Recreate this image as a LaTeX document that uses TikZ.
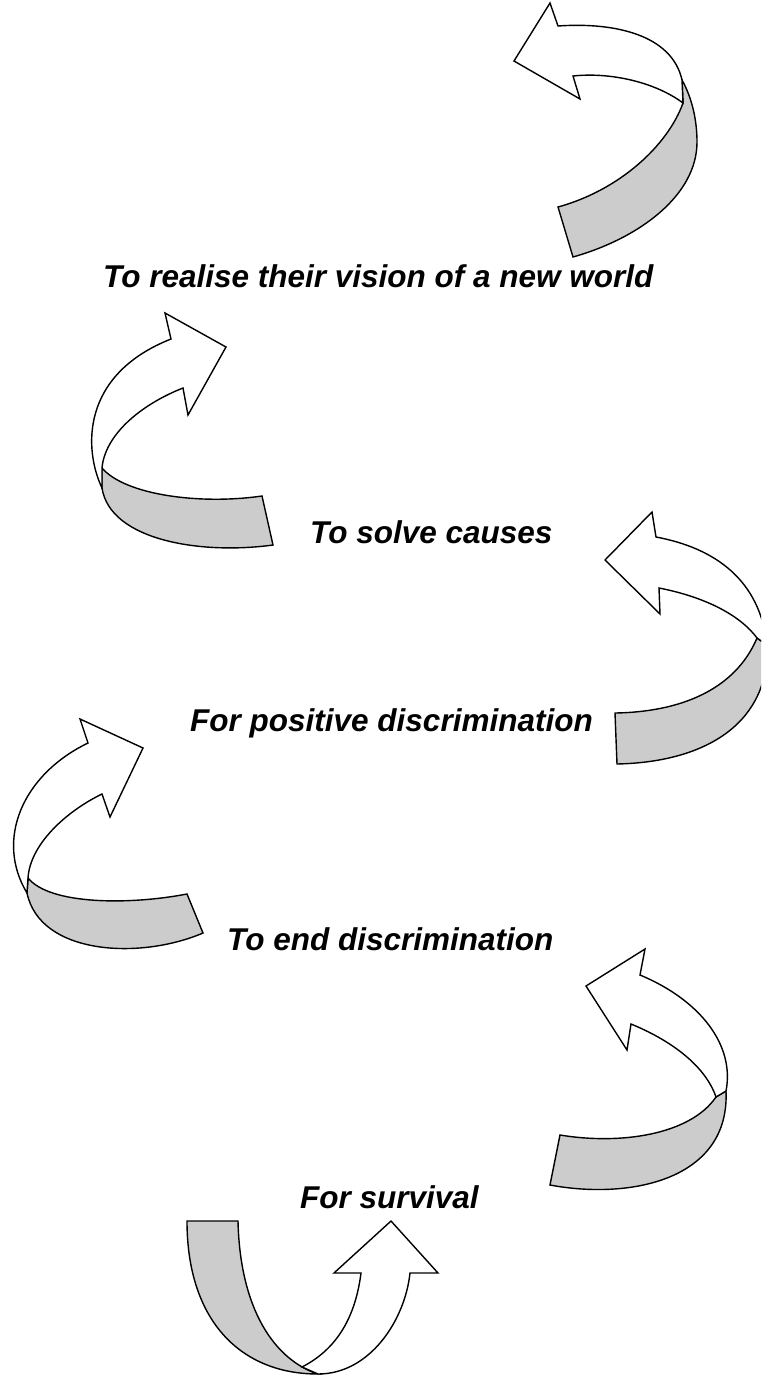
\documentclass[tikz,border=0pt]{standalone}
\usepackage{fontspec}
\setmainfont{Liberation Sans}
\definecolor{bandgray}{RGB}{204,204,204}
\begin{document}
\begin{tikzpicture}[x=1pt,y=-1pt,
  back/.style={draw=black, fill=bandgray, line width=1.4pt, line join=miter},
  front/.style={draw=black, fill=white, line width=1.4pt, line join=miter},
  lbl/.style={font=\fontsize{31.5}{38}\selectfont\bfseries\itshape, inner sep=0pt, anchor=base west}]
\useasboundingbox (0,0) rectangle (761,1376);
\clip (0,0) rectangle (761,1376);

% arrow 1 (top right)
\path[back] (682,80) .. controls (692,98) and (697,120) .. (697,142)
  .. controls (697,195) and (640,238) .. (573,257) -- (558,207)
  .. controls (620,190) and (668,145) .. (683,103) -- cycle;
\path[front] (683,103) -- (682,80) .. controls (672,35) and (615,22) .. (558,26)
  -- (550,3) -- (514,61) -- (580,99) -- (573,76)
  .. controls (610,72) and (655,82) .. (683,103) -- cycle;

% arrow 2 (left, upper)
\path[back] (102,468) .. controls (125,495) and (200,505) .. (262,496) -- (273,545)
  .. controls (200,555) and (110,540) .. (102,488) -- cycle;
\path[front] (102,488) .. controls (84,450) and (80,375) .. (171,339)
  -- (165,313) -- (226,347) -- (188,415) -- (183,388)
  .. controls (140,405) and (105,435) .. (102,468) -- cycle;

% arrow 3 (right, middle)
\path[back] (757,638) .. controls (735,690) and (680,712) .. (615,713) -- (617,764)
  .. controls (710,762) and (770,720) .. (767,645) -- cycle;
\path[front] (659,588) .. controls (705,597) and (740,615) .. (757,638) -- (767,645)
  .. controls (760,580) and (715,548) .. (656,537)
  -- (652,512) -- (605,560) -- (660,614) -- cycle;

% arrow 4 (left, lower)
\path[back] (28,878) .. controls (50,905) and (130,905) .. (187,894) -- (203,933)
  .. controls (140,960) and (40,955) .. (27,893) -- cycle;
\path[front] (27,893) .. controls (-5,840) and (22,775) .. (88,743)
  -- (80,719) -- (143,748) -- (110,817) -- (102,794)
  .. controls (65,812) and (30,845) .. (28,878) -- cycle;

% arrow 5 (right, lower)
\path[back] (716,1097) .. controls (690,1135) and (620,1145) .. (560,1135) -- (550,1185)
  .. controls (630,1200) and (730,1180) .. (726,1091) -- cycle;
\path[front] (631,1024) .. controls (670,1040) and (705,1065) .. (716,1097) -- (726,1091)
  .. controls (735,1045) and (700,1000) .. (640,975)
  -- (645,949) -- (586,986) -- (627,1050) -- cycle;

% arrow 6 (bottom U-turn)
\path[back] (187,1221) -- (238,1221) .. controls (240,1310) and (275,1360) .. (318,1374)
  .. controls (240,1374) and (187,1320) .. (187,1221) -- cycle;
\path[front] (318,1374) .. controls (370,1374) and (405,1320) .. (410,1273)
  -- (438,1273) -- (391,1221) -- (334,1273) -- (361,1273)
  .. controls (355,1320) and (335,1350) .. (302,1367) -- cycle;

% labels
\node[lbl] (t1) at (103,287) {To realise their vision of a new world};
\node[lbl] (t2) at (310,543) {To solve causes};
\node[lbl] (t3) at (190,731) {For positive discrimination};
\node[lbl] (t4) at (227,950) {To end discrimination};
\node[lbl] (t5) at (300,1208) {For survival};
\end{tikzpicture}
\end{document}
